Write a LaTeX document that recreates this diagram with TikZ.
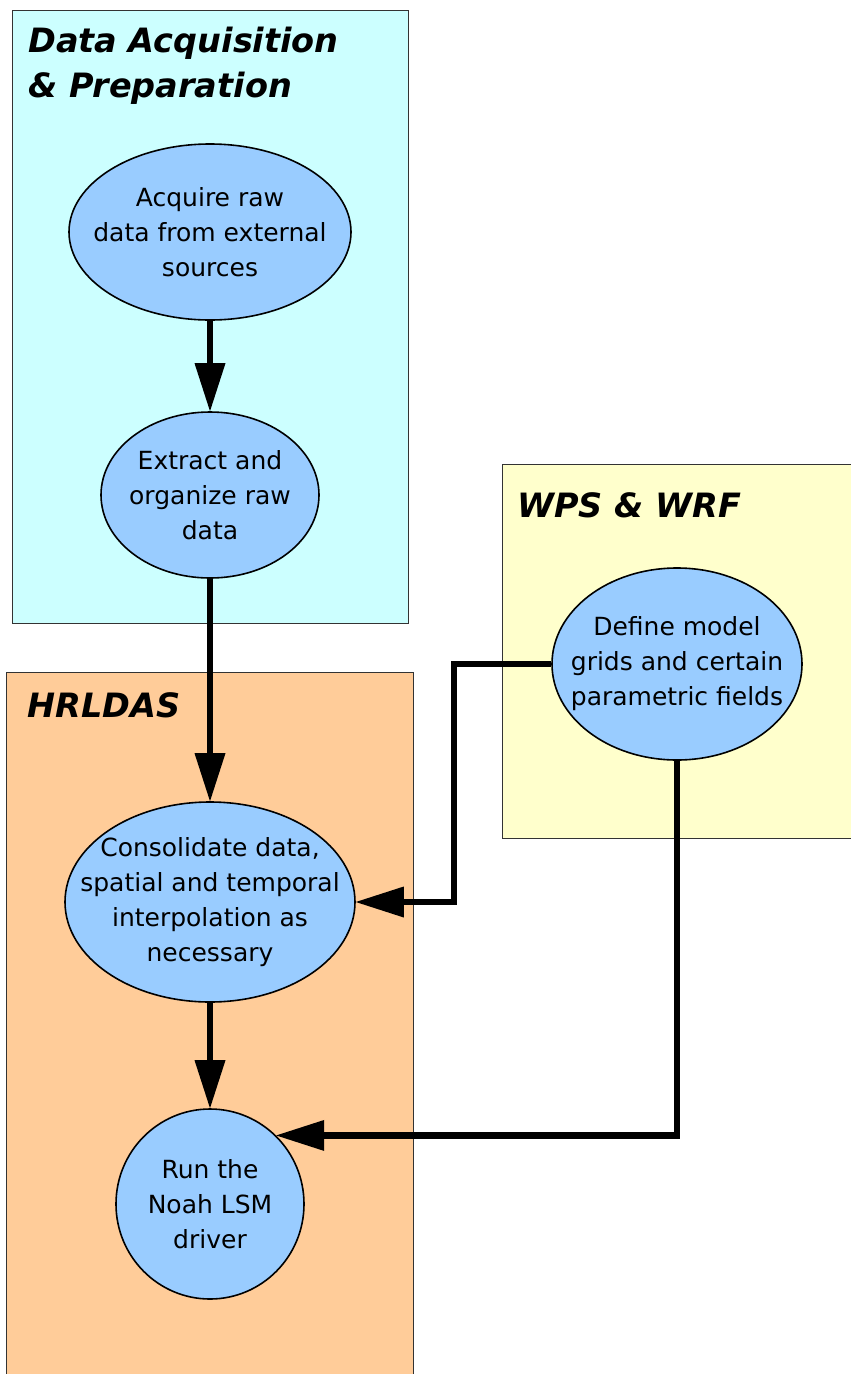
\documentclass[tikz,border=0pt]{standalone}
\usepackage{fontspec}
\setmainfont{DejaVu Sans}[BoldItalicFont={DejaVu Sans Bold Oblique}]
\usetikzlibrary{arrows.meta, shapes.geometric}

\definecolor{prepcyan}{HTML}{CCFFFF}
\definecolor{hrorange}{HTML}{FFCC99}
\definecolor{wpsyellow}{HTML}{FFFFCC}
\definecolor{procblue}{HTML}{99CCFF}
\definecolor{edgegray}{HTML}{333333}

\tikzset{
	proc/.style 2 args={ellipse, draw=black, line width=1.6pt, fill=procblue,
		minimum width=#1, minimum height=#2, inner sep=0pt},
	proctext/.style={align=center, font=\fontsize{25}{35}\selectfont},
	grouptitle/.style={anchor=base west, align=left, inner sep=0pt,
		font=\fontsize{33.5}{45}\selectfont\bfseries\itshape},
	groupedge/.style={edgegray, line width=1pt},
	flow/.style={line width=6.5pt, -{Triangle[length=48pt,width=31pt,line width=0pt]}}
}

\begin{document}
\begin{tikzpicture}[x=1pt, y=-1pt]
	
	\useasboundingbox (0,0) rectangle (851,1374);
	
	% Group boxes
	\fill[prepcyan] (12,10) rectangle (408,623);
	\draw[groupedge] (12,10) rectangle (408,623);
	\fill[hrorange] (6,672) rectangle (413,1374);
	\draw[groupedge] (6,1374) |- (413,672) -- (413,1374);
	\fill[wpsyellow] (502,464) rectangle (851,838);
	\draw[groupedge] (851,464) -| (502,838) -- (851,838);
	
	% Group titles (base is the last line)
	\node[grouptitle] (prep-title) at (28,97) {Data Acquisition\\\& Preparation};
	\node[grouptitle] (hrldas-title) at (27,717) {HRLDAS};
	\node[grouptitle] (wps-title) at (517,517) {WPS \& WRF};
	
	% Processing steps
	\node[proc={282pt}{176pt}] (acquire) at (210,232) {};
	\node[proctext] (acquire-txt) at (acquire) {Acquire raw\\data from external\\sources};
	
	\node[proc={218pt}{166pt}] (extract) at (210,495) {};
	\node[proctext] (extract-txt) at (extract) {Extract and\\organize raw\\data};
	
	\node[proc={250pt}{192pt}] (define) at (677,664) {};
	\node[proctext] (define-txt) at (define) {Define model\\grids and certain\\parametric fields};
	
	\node[proc={290pt}{200pt}] (consol) at (210,902) {};
	\node[proctext] (consol-txt) at (consol) {Consolidate data,\\spatial and temporal\\interpolation as\\necessary};
	
	\node[proc={188pt}{190pt}] (run) at (210,1204) {};
	\node[proctext] (run-txt) at (run) {Run the\\Noah LSM\\driver};
	
	% Connectors
	\foreach \from/\to in {acquire/extract, extract/consol, consol/run}
		\draw[flow] (\from) -- (\to);
	\draw[flow] (define.west) -- ++(-97,0) |- (consol.east);
	\draw[flow] (define.south) |- (run.46);
	
\end{tikzpicture}
\end{document}
